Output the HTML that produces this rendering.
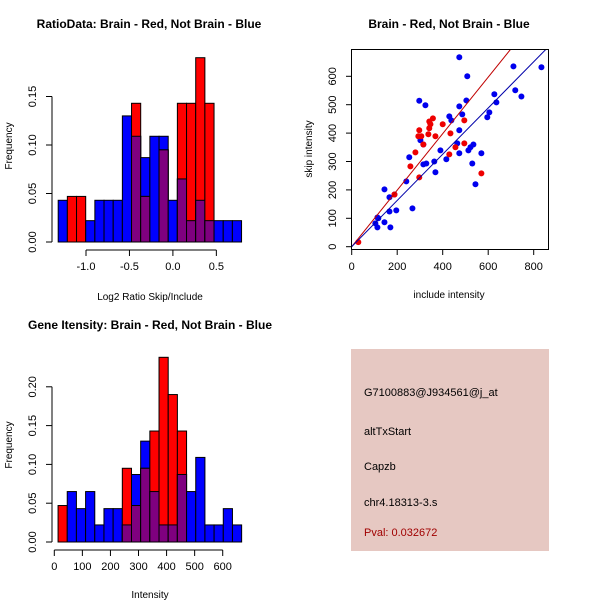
<!DOCTYPE html>
<html><head><meta charset="utf-8"><style>
html,body{margin:0;padding:0;background:#fff}
svg{display:block;font-family:"Liberation Sans",sans-serif}
</style></head><body>
<svg id="c" width="600" height="600" xmlns="http://www.w3.org/2000/svg">
<rect x="351" y="349" width="198" height="202" fill="#e6c8c2"/>
<text x="364" y="396" font-size="11">G7100883@J934561@j_at</text>
<text x="364" y="435" font-size="11">altTxStart</text>
<text x="364" y="470" font-size="11">Capzb</text>
<text x="364" y="506" font-size="11">chr4.18313-3.s</text>
<text x="364" y="536" font-size="11" fill="#a00000">Pval: 0.032672</text>
</svg>
<script>
// ---- Ratio histogram data ----
const ratioBlue=[0.043,0,0,0.022,0.043,0.043,0.043,0.13,0.109,0.087,0.109,0.109,0.043,0.065,0.022,0.043,0.022,0.022,0.022,0.022];
const ratioRed=[0,0.047,0.047,0,0,0,0,0,0.143,0.047,0,0.095,0,0.143,0.143,0.19,0.143,0,0,0];
const ratioStart=-1.32, ratioStep=0.1055;
const ratioXTicks=[-1.0,-0.5,0.0,0.5];
const ratioYTicks=[0,0.05,0.10,0.15];
// ---- Intensity histogram data ----
const intBlue=[0,0.065,0.043,0.065,0.022,0.043,0.043,0.022,0.087,0.13,0.065,0.022,0.022,0.087,0.065,0.109,0.022,0.022,0.043,0.022];
const intRed=[0.047,0,0,0,0,0,0,0.095,0.047,0.095,0.143,0.238,0.19,0.143,0,0,0,0,0,0];
const intStart=13.4, intStep=32.7;
const intXTicks=[0,100,200,300,400,500,600];
const intYTicks=[0,0.05,0.10,0.15,0.20];
// ---- Scatter data ----
const blueX=[473,711,834,508,719,746,627,636,297,324,473,504,605,596,429,438,486,473,302,315,464,513,522,535,390,416,473,570,253,363,315,328,368,530,544,240,144,166,188,166,196,267,113,113,144,170,104,117];
const blueY=[667,635,632,600,551,529,537,508,514,498,494,515,473,456,459,445,466,410,375,360,364,339,350,360,339,308,329,329,315,300,290,293,262,293,220,230,202,174,184,124,128,135,103,68,86,68,82,100];
const redX=[29,297,293,306,315,280,258,297,188,341,341,346,357,337,368,400,434,495,456,429,495,570];
const redY=[16,410,389,389,360,332,283,244,184,417,441,431,452,396,389,431,399,445,350,325,364,258];
const blueSlope=0.814, redSlope=0.995;
const scXTicks=[0,200,400,600,800];
const scYTicks=[0,100,200,300,400,500,600];

const NS="http://www.w3.org/2000/svg";
const svg=document.getElementById('c');
function mk(tag,attrs,parent){const e=document.createElementNS(NS,tag);for(const k in attrs)e.setAttribute(k,attrs[k]);(parent||svg).appendChild(e);return e;}
function txt(x,y,s,attrs){const e=mk('text',Object.assign({x:x,y:y,'font-size':11,'text-anchor':'middle'},attrs||{}));e.textContent=s;return e;}

function hist(blue,red,start,step,xs,ys,xTicks,yTicks,axisX,axisY,yLeft,fmtX,fmtY,name){
  const g=mk('g',{});
  
  
  for(let i=0;i<blue.length;i++){
    const x0=xs(start+i*step),x1=xs(start+(i+1)*step);
    const b=blue[i],r=red[i];
    if(b>0){const e=mk('rect',{x:x0,y:ys(b),width:x1-x0,height:ys(0)-ys(b),fill:'#0000ff',stroke:'#000','stroke-width':1},g);
      
      }
    if(r>0){const e=mk('rect',{x:x0,y:ys(r),width:x1-x0,height:ys(0)-ys(r),fill:'#ff0000',stroke:'#000','stroke-width':1},g);
      
      }
    if(b>0&&r>0){const m=Math.min(b,r);const e=mk('rect',{x:x0,y:ys(m),width:x1-x0,height:ys(0)-ys(m),fill:'#7f007f',stroke:'#000','stroke-width':1},g);
      
      }
  }
  mk('line',{x1:xs(xTicks[0]),x2:xs(xTicks[xTicks.length-1]),y1:axisY,y2:axisY,stroke:'#000'},g);
  xTicks.forEach(t=>{mk('line',{x1:xs(t),x2:xs(t),y1:axisY,y2:axisY+6,stroke:'#000'},g);
    const e=txt(xs(t),axisY+20,fmtX(t));});
  mk('line',{x1:axisX,x2:axisX,y1:ys(yTicks[0]),y2:ys(yTicks[yTicks.length-1]),stroke:'#000'},g);
  yTicks.forEach(t=>{mk('line',{x1:axisX,x2:axisX-6,y1:ys(t),y2:ys(t),stroke:'#000'},g);
    const e=txt(yLeft,ys(t),fmtY(t),{transform:`rotate(-90 ${yLeft} ${ys(t)})`});});
}
// top-left
const rx=v=>86+(v+1)*86.9, ry=v=>242-v*970;
hist(ratioBlue,ratioRed,ratioStart,ratioStep,rx,ry,ratioXTicks,ratioYTicks,52,250,36,t=>t.toFixed(1),t=>t.toFixed(2),'ratio-histogram');
// bottom-left
const ix=v=>54.3+v*0.2807, iy=v=>542-v*776;
hist(intBlue,intRed,intStart,intStep,ix,iy,intXTicks,intYTicks,52,550,36,t=>String(t),t=>t.toFixed(2),'intensity-histogram');

// scatter
const sx=v=>351.7+v*0.2275, sy=v=>246.7-v*0.284;
const sg=mk('g',{});


mk('rect',{x:351.5,y:49.5,width:197,height:200,fill:'none',stroke:'#000'},sg);
blueX.forEach((v,i)=>{const e=mk('circle',{cx:sx(v),cy:sy(blueY[i]),r:3,fill:'#0000ee'},sg);
  
  });
redX.forEach((v,i)=>{const e=mk('circle',{cx:sx(v),cy:sy(redY[i]),r:3,fill:'#ee0000'},sg);
  
  });
const clip=mk('clipPath',{id:'sc'},sg);mk('rect',{x:352,y:50,width:196,height:199},clip);
let e1=mk('line',{x1:sx(0),y1:sy(0),x2:sx(900),y2:sy(900*redSlope),stroke:'#c00000','stroke-width':1,'clip-path':'url(#sc)'},sg);


let e2=mk('line',{x1:sx(0),y1:sy(0),x2:sx(900),y2:sy(900*blueSlope),stroke:'#0000aa','stroke-width':1,'clip-path':'url(#sc)'},sg);


scXTicks.forEach(t=>{mk('line',{x1:sx(t),x2:sx(t),y1:249.5,y2:255,stroke:'#000'},sg);
  const e=txt(sx(t),270,String(t));});
scYTicks.forEach(t=>{mk('line',{x1:351.5,x2:346,y1:sy(t),y2:sy(t),stroke:'#000'},sg);
  const e=txt(336,sy(t),String(t),{transform:`rotate(-90 336 ${sy(t)})`});});

// titles & axis labels
function lbl(x,y,s,name,attrs){const e=txt(x,y,s,attrs);}
lbl(149,28,'RatioData: Brain - Red, Not Brain - Blue','ratio-title',{'font-weight':'bold','font-size':12});
lbl(449,28,'Brain - Red, Not Brain - Blue','scatter-title',{'font-weight':'bold','font-size':12});
lbl(150,329,'Gene Itensity: Brain - Red, Not Brain - Blue','intensity-title',{'font-weight':'bold','font-size':12});
lbl(150,300,'Log2 Ratio Skip/Include','ratio-x-title',{'font-size':10});
lbl(12,146,'Frequency','ratio-y-title',{'font-size':10,transform:'rotate(-90 12 146)'});
lbl(150,598,'Intensity','intensity-x-title',{'font-size':10});
lbl(12,445,'Frequency','intensity-y-title',{'font-size':10,transform:'rotate(-90 12 445)'});
lbl(449,298,'include intensity','scatter-x-title',{'font-size':10});
lbl(312,149,'skip intensity','scatter-y-title',{'font-size':10,transform:'rotate(-90 312 149)'});
</script>
</body></html>
